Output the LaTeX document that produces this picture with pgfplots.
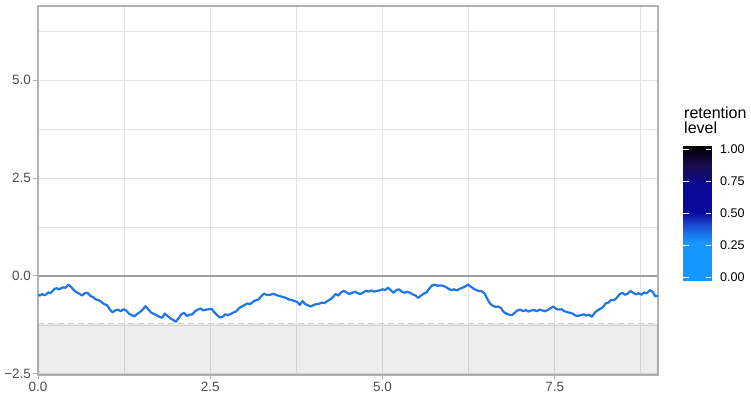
\documentclass[border=0pt]{standalone}
\usepackage{pgfplots}
\pgfplotsset{compat=1.18}
\usepackage{fontspec}
\setmainfont{Liberation Sans}

\definecolor{tickgray}{HTML}{4D4D4D}
\definecolor{bordergray}{HTML}{B3B3B3}
\definecolor{gridgray}{HTML}{E3E3E3}
\definecolor{zerogray}{HTML}{A0A0A0}
\definecolor{dashgray}{HTML}{CFCFCF}
\definecolor{lineblue}{RGB}{33,118,230}

\pgfplotstableread{
x y
0.00 -0.47
0.03 -0.50
0.06 -0.46
0.09 -0.49
0.12 -0.47
0.15 -0.42
0.18 -0.44
0.21 -0.39
0.24 -0.33
0.27 -0.31
0.30 -0.34
0.33 -0.32
0.36 -0.29
0.40 -0.30
0.44 -0.22
0.48 -0.28
0.52 -0.36
0.56 -0.42
0.60 -0.45
0.64 -0.50
0.68 -0.44
0.72 -0.43
0.76 -0.51
0.80 -0.54
0.84 -0.60
0.88 -0.62
0.92 -0.66
0.96 -0.72
1.00 -0.74
1.04 -0.85
1.08 -0.93
1.12 -0.88
1.16 -0.86
1.20 -0.90
1.24 -0.85
1.28 -0.88
1.32 -0.96
1.36 -1.00
1.40 -1.03
1.44 -0.97
1.48 -0.92
1.52 -0.86
1.56 -0.77
1.60 -0.85
1.64 -0.93
1.68 -0.97
1.72 -1.00
1.76 -1.04
1.80 -1.07
1.84 -0.96
1.88 -1.02
1.92 -1.08
1.96 -1.12
2.00 -1.17
2.04 -1.08
2.08 -0.98
2.12 -0.94
2.16 -1.02
2.20 -0.99
2.24 -0.98
2.28 -0.90
2.32 -0.86
2.36 -0.83
2.40 -0.88
2.44 -0.86
2.48 -0.85
2.52 -0.84
2.56 -0.93
2.60 -1.00
2.64 -1.06
2.68 -1.04
2.72 -0.98
2.76 -1.00
2.80 -0.97
2.84 -0.93
2.88 -0.90
2.92 -0.82
2.96 -0.78
3.00 -0.74
3.04 -0.70
3.08 -0.72
3.12 -0.66
3.16 -0.62
3.20 -0.60
3.24 -0.52
3.28 -0.45
3.32 -0.48
3.36 -0.49
3.40 -0.46
3.44 -0.47
3.48 -0.50
3.52 -0.52
3.56 -0.54
3.60 -0.56
3.64 -0.60
3.68 -0.61
3.72 -0.64
3.76 -0.66
3.80 -0.74
3.84 -0.64
3.88 -0.72
3.92 -0.75
3.96 -0.78
4.00 -0.74
4.04 -0.72
4.08 -0.71
4.12 -0.68
4.16 -0.69
4.20 -0.64
4.24 -0.60
4.28 -0.54
4.32 -0.46
4.36 -0.50
4.40 -0.42
4.44 -0.38
4.48 -0.42
4.52 -0.46
4.56 -0.43
4.60 -0.40
4.64 -0.44
4.68 -0.46
4.72 -0.42
4.76 -0.38
4.80 -0.40
4.84 -0.37
4.88 -0.40
4.92 -0.38
4.96 -0.37
5.00 -0.34
5.04 -0.36
5.08 -0.30
5.12 -0.36
5.16 -0.43
5.20 -0.36
5.24 -0.34
5.28 -0.40
5.32 -0.43
5.36 -0.40
5.40 -0.43
5.44 -0.47
5.48 -0.50
5.52 -0.56
5.56 -0.50
5.60 -0.45
5.64 -0.42
5.68 -0.32
5.72 -0.24
5.76 -0.22
5.80 -0.25
5.84 -0.24
5.88 -0.25
5.92 -0.28
5.96 -0.33
6.00 -0.36
6.04 -0.34
6.08 -0.37
6.12 -0.33
6.16 -0.30
6.20 -0.27
6.24 -0.22
6.28 -0.27
6.32 -0.32
6.36 -0.36
6.40 -0.38
6.44 -0.39
6.48 -0.44
6.52 -0.58
6.56 -0.70
6.60 -0.76
6.64 -0.79
6.68 -0.78
6.72 -0.82
6.76 -0.92
6.80 -0.96
6.84 -0.99
6.88 -1.00
6.92 -0.94
6.96 -0.88
7.00 -0.86
7.04 -0.90
7.08 -0.87
7.12 -0.91
7.16 -0.88
7.20 -0.87
7.24 -0.90
7.28 -0.86
7.32 -0.88
7.36 -0.90
7.40 -0.87
7.44 -0.82
7.48 -0.78
7.52 -0.84
7.56 -0.86
7.60 -0.85
7.64 -0.90
7.68 -0.92
7.72 -0.94
7.76 -0.96
7.80 -1.01
7.84 -1.02
7.88 -1.00
7.92 -0.98
7.96 -1.01
8.00 -0.99
8.04 -1.04
8.08 -0.94
8.12 -0.88
8.16 -0.84
8.20 -0.80
8.24 -0.70
8.28 -0.68
8.32 -0.61
8.36 -0.62
8.40 -0.56
8.44 -0.47
8.48 -0.43
8.52 -0.48
8.56 -0.45
8.60 -0.38
8.64 -0.43
8.68 -0.47
8.72 -0.44
8.76 -0.48
8.80 -0.42
8.84 -0.44
8.88 -0.36
8.92 -0.40
8.96 -0.52
9.00 -0.50
}\walk

% colour key: a two-column strip, colour value = level
\pgfplotstableread{
x y c
0 -0.026 -0.026
1 -0.026 -0.026
0 0.28 0.28
1 0.28 0.28
0 0.40 0.40
1 0.40 0.40
0 0.50 0.50
1 0.50 0.50
0 0.72 0.72
1 0.72 0.72
0 0.88 0.88
1 0.88 0.88
0 1.026 1.026
1 1.026 1.026
}\keystrip

\begin{document}
\begin{tikzpicture}
\path[use as bounding box] (0,0) rectangle (751pt,395pt);
\begin{axis}[
  at={(38pt,20pt)}, anchor=south west,
  scale only axis, width=620pt, height=369pt,
  xmin=0, xmax=9, ymin=-2.53, ymax=6.9,
  xtick={0,2.5,5,7.5}, ytick={-2.5,0,2.5,5},
  xticklabels={0.0,2.5,5.0,7.5},
  yticklabels={−2.5,0.0,2.5,5.0},
  minor xtick={1.25,3.75,6.25,8.75},
  minor ytick={-1.25,1.25,3.75,6.25},
  grid=both,
  major grid style={draw=gridgray, line width=1pt},
  minor grid style={draw=gridgray, line width=0.6pt},
  axis line style={draw=bordergray, line width=1.4pt},
  tick align=outside, tickpos=left,
  major tick length=4.5pt, minor tick length=0pt,
  major tick style={draw=bordergray, line width=1pt},
  ticklabel style={font=\fontsize{13.5}{15}\selectfont, text=tickgray},
  yticklabel style={xshift=1pt},
  xticklabel style={yshift=1pt},
  no markers,
]
% shaded band below the retention threshold
\addplot[draw=none, fill=black, fill opacity=0.07]
  coordinates {(0,-2.53) (9,-2.53) (9,-1.215) (0,-1.215)} -- cycle;
% threshold and zero reference lines
\addplot[draw=dashgray, line width=1.3pt, dash pattern=on 6pt off 4pt]
  coordinates {(0,-1.215) (9,-1.215)};
\addplot[draw=zerogray, line width=1.8pt]
  coordinates {(0,0) (9,0)};
% the path itself
\addplot[draw=lineblue, line width=2.2pt, line join=round] table[x=x, y=y] {\walk};
\end{axis}

% colour key for the retention level
\begin{axis}[
  at={(683pt,114pt)}, anchor=south west,
  scale only axis, width=28pt, height=135pt,
  xmin=0, xmax=1, ymin=-0.026, ymax=1.026,
  axis on top,
  axis line style={draw=none},
  xtick=\empty,
  ytick={0,0.25,0.5,0.75,1},
  yticklabels={0.00,0.25,0.50,0.75,1.00},
  ytick pos=both, yticklabel pos=right,
  tick align=inside, major tick length=5.5pt,
  major tick style={draw=white, line width=0.9pt},
  yticklabel style={font=\fontsize{12.6}{15}\selectfont, text=black, xshift=5.5pt},
  colormap={retention}{
    rgb255(0pt)=(20,151,255);
    rgb255(306pt)=(20,151,255);
    rgb255(426pt)=(30,80,215);
    rgb255(526pt)=(10,10,160);
    rgb255(746pt)=(12,8,150);
    rgb255(906pt)=(25,12,75);
    rgb255(1052pt)=(0,0,0)},
  point meta min=-0.026, point meta max=1.026,
]
\addplot[surf, shader=interp, mesh/cols=2, point meta=explicit]
  table[x=x, y=y, meta=c] {\keystrip};
\end{axis}
\node[anchor=north west, inner sep=0pt, align=left,
      font=\fontsize{16}{15}\selectfont] at (684pt,288.2pt) {retention\\level};
\end{tikzpicture}
\end{document}
